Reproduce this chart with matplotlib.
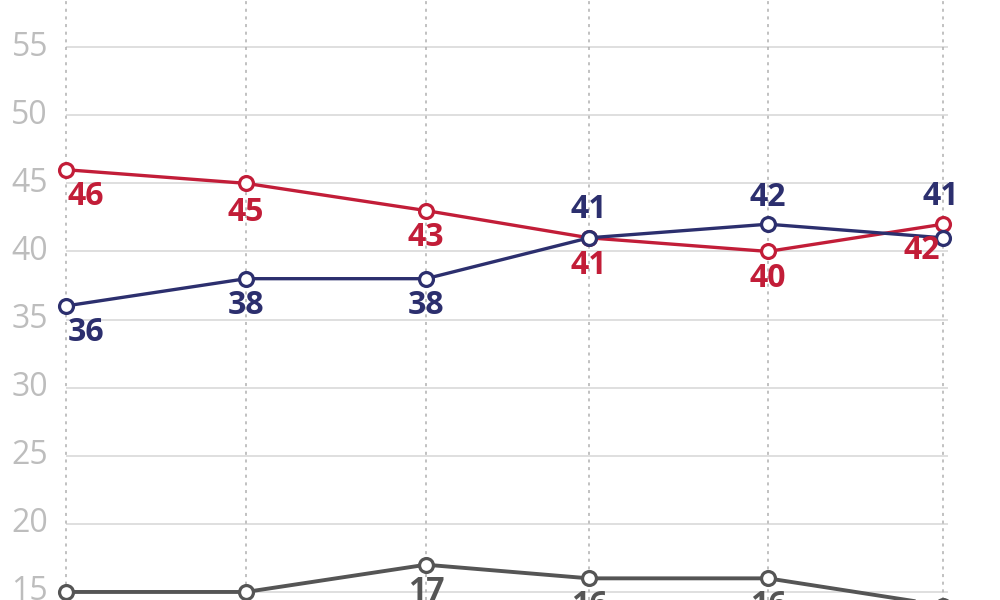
import matplotlib
matplotlib.use("Agg")
import matplotlib.pyplot as plt

# ---- data ----
x_days = [0, 180, 360, 523, 702, 877]          # relative time positions
red_vals = [46, 45, 43, 41, 40, 42]
blue_vals = [36, 38, 38, 41, 42, 41]
gray_vals = [15, 15, 17, 16, 16, 14]
y_ticks = [15, 20, 25, 30, 35, 40, 45, 50, 55]

# label placement: (dx px, dy px)
red_off = [(20, -27), (0, -29), (0, -27), (0, -28), (0, -27), (-21, -26)]
blue_off = [(20, -27), (0, -27), (0, -27), (0, 28), (0, 27), (-2, 41)]
gray_off = [(0, -27), (0, -27), (0, -27), (0, -27), (0, -27), (0, -27)]

RED = "#c21d38"
BLUE = "#2c2f6e"
GRAY = "#555555"

plt.rcParams['font.family'] = ['Open Sans', 'DejaVu Sans']

fig = plt.figure(figsize=(10, 6), dpi=100)
ax = fig.add_axes([0, 0, 1, 1])
ax.set_xlim(-66, 934)
ax.set_ylim(14.41, 58.46)
ax.axis('off')

# horizontal gridlines
ax.hlines(y_ticks, 0, 882, colors="#dcdcdc", linewidth=1.3, zorder=1)
# vertical dotted gridlines
for xv in x_days:
    ax.axvline(xv, color="#b0b0b0", linestyle=(0, (2, 3)), linewidth=1.1, zorder=1)

# y tick labels
for t in y_ticks:
    ax.text(-18, t, str(t), ha='right', va='center', fontsize=23,
            color="#bdbdbd", zorder=2)

def series(vals, color, offs, z, lw):
    ax.plot(x_days, vals, color=color, linewidth=lw, marker='o', markersize=10,
            markerfacecolor='white', markeredgecolor=color, markeredgewidth=2.3,
            zorder=z, solid_joinstyle='round')
    for xv, v, (dx, dy) in zip(x_days, vals, offs):
        ax.annotate(str(v), (xv, v), xytext=(dx * 0.72, dy * 0.72),
                    textcoords='offset points', ha='center', va='center',
                    fontsize=23, fontweight='bold', color=color, zorder=10)

series(gray_vals, GRAY, gray_off, 3, 2.8)
series(red_vals, RED, red_off, 4, 2.4)
series(blue_vals, BLUE, blue_off, 5, 2.4)

fig.savefig("out.png", dpi=100)
